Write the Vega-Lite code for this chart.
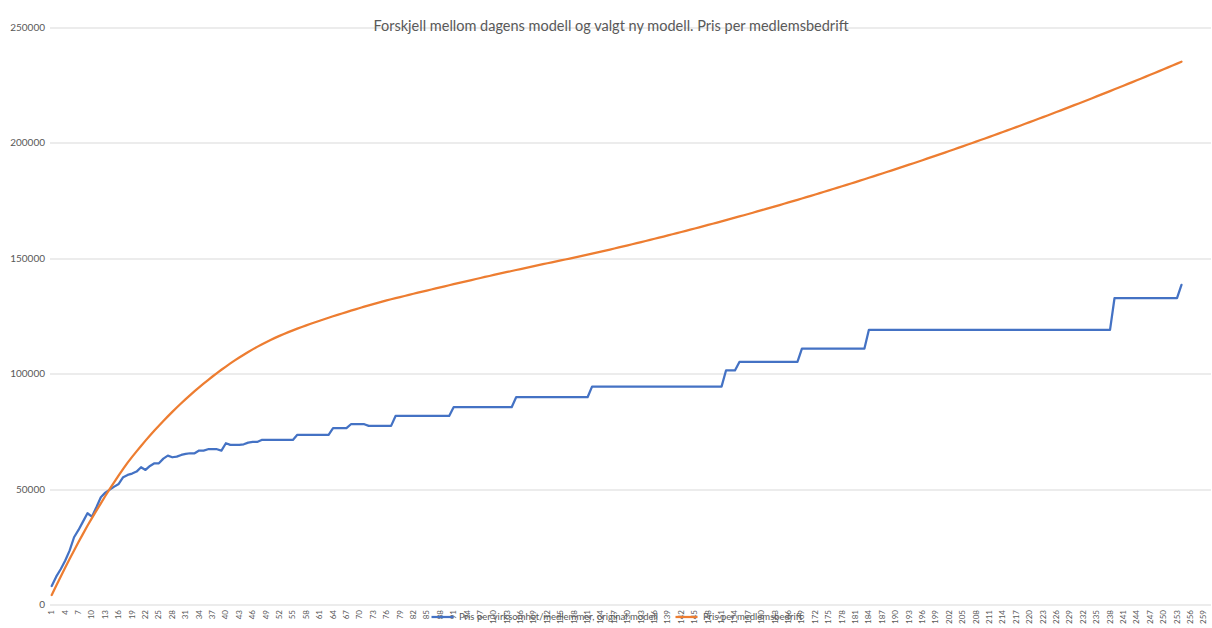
{
  "$schema": "https://vega.github.io/schema/vega-lite/v6.json",
  "width": 1161,
  "height": 577,
  "autosize": {"type": "none"},
  "padding": {"left": 49.5, "top": 27.5, "right": 1.5, "bottom": 23.5},
  "background": "white",
  "config": {"view": {"stroke": null}, "font": "Lato"},
  "title": {
    "text": "Forskjell mellom dagens modell og valgt ny modell. Pris per medlemsbedrift",
    "frame": "group", "anchor": "middle", "dx": -19, "offset": -19, "baseline": "middle",
    "fontSize": 14.5, "fontWeight": "normal", "color": "#595959", "font": "Lato"
  },
  "data": {"values": [
    {"n":1,"original":8000,"medlem":4100},
    {"n":2,"original":12060,"medlem":8100},
    {"n":3,"original":15270,"medlem":12050},
    {"n":4,"original":18990,"medlem":15900},
    {"n":5,"original":23330,"medlem":19700},
    {"n":6,"original":29130,"medlem":23400},
    {"n":7,"original":32300,"medlem":27050},
    {"n":8,"original":35900,"medlem":30600},
    {"n":9,"original":39530,"medlem":34100},
    {"n":10,"original":38070,"medlem":37400},
    {"n":11,"original":42130,"medlem":40650},
    {"n":12,"original":46470,"medlem":43850},
    {"n":13,"original":48470,"medlem":47000},
    {"n":14,"original":49770,"medlem":50100},
    {"n":15,"original":51070,"medlem":53050},
    {"n":16,"original":52240,"medlem":55950},
    {"n":17,"original":55140,"medlem":58750},
    {"n":18,"original":56140,"medlem":61450},
    {"n":19,"original":56720,"medlem":63950},
    {"n":20,"original":57590,"medlem":66350},
    {"n":21,"original":59470,"medlem":68700},
    {"n":22,"original":58310,"medlem":71000},
    {"n":23,"original":60040,"medlem":73200},
    {"n":24,"original":61200,"medlem":75350},
    {"n":25,"original":61200,"medlem":77450},
    {"n":26,"original":63200,"medlem":79500},
    {"n":27,"original":64500,"medlem":81500},
    {"n":28,"original":63800,"medlem":83450},
    {"n":29,"original":64070,"medlem":85350},
    {"n":30,"original":64800,"medlem":87200},
    {"n":31,"original":65240,"medlem":89000},
    {"n":32,"original":65530,"medlem":90750},
    {"n":33,"original":65530,"medlem":92450},
    {"n":34,"original":66690,"medlem":94100},
    {"n":35,"original":66690,"medlem":95710},
    {"n":36,"original":67270,"medlem":97270},
    {"n":37,"original":67270,"medlem":98790},
    {"n":38,"original":67270,"medlem":100270},
    {"n":39,"original":66690,"medlem":101700},
    {"n":40,"original":69870,"medlem":103090},
    {"n":41,"original":69140,"medlem":104440},
    {"n":42,"original":69140,"medlem":105750},
    {"n":43,"original":69140,"medlem":107010},
    {"n":44,"original":69400,"medlem":108230},
    {"n":45,"original":70150,"medlem":109400},
    {"n":46,"original":70440,"medlem":110530},
    {"n":47,"original":70440,"medlem":111620},
    {"n":48,"original":71300,"medlem":112670},
    {"n":49,"original":71300,"medlem":113670},
    {"n":50,"original":71300,"medlem":114620},
    {"n":51,"original":71300,"medlem":115530},
    {"n":52,"original":71300,"medlem":116390},
    {"n":53,"original":71300,"medlem":117210},
    {"n":54,"original":71300,"medlem":118000},
    {"n":55,"original":71300,"medlem":118770},
    {"n":56,"original":73500,"medlem":119510},
    {"n":57,"original":73500,"medlem":120230},
    {"n":58,"original":73500,"medlem":120930},
    {"n":59,"original":73500,"medlem":121620},
    {"n":60,"original":73500,"medlem":122290},
    {"n":61,"original":73500,"medlem":122950},
    {"n":62,"original":73500,"medlem":123600},
    {"n":63,"original":73500,"medlem":124240},
    {"n":64,"original":76400,"medlem":124870},
    {"n":65,"original":76400,"medlem":125490},
    {"n":66,"original":76400,"medlem":126100},
    {"n":67,"original":76400,"medlem":126710},
    {"n":68,"original":78100,"medlem":127310},
    {"n":69,"original":78100,"medlem":127890},
    {"n":70,"original":78100,"medlem":128470},
    {"n":71,"original":78100,"medlem":129040},
    {"n":72,"original":77400,"medlem":129600},
    {"n":73,"original":77400,"medlem":130150},
    {"n":74,"original":77400,"medlem":130690},
    {"n":75,"original":77400,"medlem":131230},
    {"n":76,"original":77400,"medlem":131750},
    {"n":77,"original":77400,"medlem":132260},
    {"n":78,"original":81700,"medlem":132730},
    {"n":79,"original":81700,"medlem":133200},
    {"n":80,"original":81700,"medlem":133680},
    {"n":81,"original":81700,"medlem":134150},
    {"n":82,"original":81700,"medlem":134630},
    {"n":83,"original":81700,"medlem":135100},
    {"n":84,"original":81700,"medlem":135560},
    {"n":85,"original":81700,"medlem":136030},
    {"n":86,"original":81700,"medlem":136490},
    {"n":87,"original":81700,"medlem":136960},
    {"n":88,"original":81700,"medlem":137420},
    {"n":89,"original":81700,"medlem":137870},
    {"n":90,"original":81700,"medlem":138330},
    {"n":91,"original":85500,"medlem":138780},
    {"n":92,"original":85500,"medlem":139240},
    {"n":93,"original":85500,"medlem":139690},
    {"n":94,"original":85500,"medlem":140130},
    {"n":95,"original":85500,"medlem":140580},
    {"n":96,"original":85500,"medlem":141020},
    {"n":97,"original":85500,"medlem":141470},
    {"n":98,"original":85500,"medlem":141910},
    {"n":99,"original":85500,"medlem":142340},
    {"n":100,"original":85500,"medlem":142780},
    {"n":101,"original":85500,"medlem":143210},
    {"n":102,"original":85500,"medlem":143650},
    {"n":103,"original":85500,"medlem":144080},
    {"n":104,"original":85500,"medlem":144500},
    {"n":105,"original":89800,"medlem":144930},
    {"n":106,"original":89800,"medlem":145350},
    {"n":107,"original":89800,"medlem":145780},
    {"n":108,"original":89800,"medlem":146200},
    {"n":109,"original":89800,"medlem":146610},
    {"n":110,"original":89800,"medlem":147030},
    {"n":111,"original":89800,"medlem":147440},
    {"n":112,"original":89800,"medlem":147860},
    {"n":113,"original":89800,"medlem":148270},
    {"n":114,"original":89800,"medlem":148670},
    {"n":115,"original":89800,"medlem":149080},
    {"n":116,"original":89800,"medlem":149480},
    {"n":117,"original":89800,"medlem":149890},
    {"n":118,"original":89800,"medlem":150290},
    {"n":119,"original":89800,"medlem":150690},
    {"n":120,"original":89800,"medlem":151120},
    {"n":121,"original":89800,"medlem":151560},
    {"n":122,"original":94400,"medlem":152000},
    {"n":123,"original":94400,"medlem":152440},
    {"n":124,"original":94400,"medlem":152890},
    {"n":125,"original":94400,"medlem":153340},
    {"n":126,"original":94400,"medlem":153790},
    {"n":127,"original":94400,"medlem":154240},
    {"n":128,"original":94400,"medlem":154700},
    {"n":129,"original":94400,"medlem":155160},
    {"n":130,"original":94400,"medlem":155620},
    {"n":131,"original":94400,"medlem":156090},
    {"n":132,"original":94400,"medlem":156560},
    {"n":133,"original":94400,"medlem":157030},
    {"n":134,"original":94400,"medlem":157510},
    {"n":135,"original":94400,"medlem":157980},
    {"n":136,"original":94400,"medlem":158460},
    {"n":137,"original":94400,"medlem":158950},
    {"n":138,"original":94400,"medlem":159430},
    {"n":139,"original":94400,"medlem":159920},
    {"n":140,"original":94400,"medlem":160410},
    {"n":141,"original":94400,"medlem":160910},
    {"n":142,"original":94400,"medlem":161410},
    {"n":143,"original":94400,"medlem":161910},
    {"n":144,"original":94400,"medlem":162410},
    {"n":145,"original":94400,"medlem":162920},
    {"n":146,"original":94400,"medlem":163420},
    {"n":147,"original":94400,"medlem":163940},
    {"n":148,"original":94400,"medlem":164450},
    {"n":149,"original":94400,"medlem":164970},
    {"n":150,"original":94400,"medlem":165490},
    {"n":151,"original":94400,"medlem":166010},
    {"n":152,"original":101400,"medlem":166540},
    {"n":153,"original":101400,"medlem":167070},
    {"n":154,"original":101400,"medlem":167600},
    {"n":155,"original":105100,"medlem":168130},
    {"n":156,"original":105100,"medlem":168670},
    {"n":157,"original":105100,"medlem":169210},
    {"n":158,"original":105100,"medlem":169750},
    {"n":159,"original":105100,"medlem":170300},
    {"n":160,"original":105100,"medlem":170850},
    {"n":161,"original":105100,"medlem":171400},
    {"n":162,"original":105100,"medlem":171950},
    {"n":163,"original":105100,"medlem":172510},
    {"n":164,"original":105100,"medlem":173070},
    {"n":165,"original":105100,"medlem":173630},
    {"n":166,"original":105100,"medlem":174200},
    {"n":167,"original":105100,"medlem":174770},
    {"n":168,"original":105100,"medlem":175340},
    {"n":169,"original":110900,"medlem":175920},
    {"n":170,"original":110900,"medlem":176490},
    {"n":171,"original":110900,"medlem":177070},
    {"n":172,"original":110900,"medlem":177660},
    {"n":173,"original":110900,"medlem":178240},
    {"n":174,"original":110900,"medlem":178830},
    {"n":175,"original":110900,"medlem":179420},
    {"n":176,"original":110900,"medlem":180020},
    {"n":177,"original":110900,"medlem":180610},
    {"n":178,"original":110900,"medlem":181210},
    {"n":179,"original":110900,"medlem":181820},
    {"n":180,"original":110900,"medlem":182420},
    {"n":181,"original":110900,"medlem":183030},
    {"n":182,"original":110900,"medlem":183640},
    {"n":183,"original":110900,"medlem":184260},
    {"n":184,"original":119000,"medlem":184880},
    {"n":185,"original":119000,"medlem":185500},
    {"n":186,"original":119000,"medlem":186120},
    {"n":187,"original":119000,"medlem":186740},
    {"n":188,"original":119000,"medlem":187370},
    {"n":189,"original":119000,"medlem":188000},
    {"n":190,"original":119000,"medlem":188640},
    {"n":191,"original":119000,"medlem":189280},
    {"n":192,"original":119000,"medlem":189920},
    {"n":193,"original":119000,"medlem":190560},
    {"n":194,"original":119000,"medlem":191200},
    {"n":195,"original":119000,"medlem":191850},
    {"n":196,"original":119000,"medlem":192500},
    {"n":197,"original":119000,"medlem":193160},
    {"n":198,"original":119000,"medlem":193820},
    {"n":199,"original":119000,"medlem":194480},
    {"n":200,"original":119000,"medlem":195140},
    {"n":201,"original":119000,"medlem":195800},
    {"n":202,"original":119000,"medlem":196470},
    {"n":203,"original":119000,"medlem":197140},
    {"n":204,"original":119000,"medlem":197820},
    {"n":205,"original":119000,"medlem":198500},
    {"n":206,"original":119000,"medlem":199180},
    {"n":207,"original":119000,"medlem":199860},
    {"n":208,"original":119000,"medlem":200540},
    {"n":209,"original":119000,"medlem":201230},
    {"n":210,"original":119000,"medlem":201920},
    {"n":211,"original":119000,"medlem":202620},
    {"n":212,"original":119000,"medlem":203320},
    {"n":213,"original":119000,"medlem":204020},
    {"n":214,"original":119000,"medlem":204720},
    {"n":215,"original":119000,"medlem":205420},
    {"n":216,"original":119000,"medlem":206130},
    {"n":217,"original":119000,"medlem":206840},
    {"n":218,"original":119000,"medlem":207560},
    {"n":219,"original":119000,"medlem":208280},
    {"n":220,"original":119000,"medlem":209000},
    {"n":221,"original":119000,"medlem":209720},
    {"n":222,"original":119000,"medlem":210440},
    {"n":223,"original":119000,"medlem":211170},
    {"n":224,"original":119000,"medlem":211900},
    {"n":225,"original":119000,"medlem":212640},
    {"n":226,"original":119000,"medlem":213370},
    {"n":227,"original":119000,"medlem":214110},
    {"n":228,"original":119000,"medlem":214860},
    {"n":229,"original":119000,"medlem":215600},
    {"n":230,"original":119000,"medlem":216350},
    {"n":231,"original":119000,"medlem":217100},
    {"n":232,"original":119000,"medlem":217860},
    {"n":233,"original":119000,"medlem":218610},
    {"n":234,"original":119000,"medlem":219370},
    {"n":235,"original":119000,"medlem":220140},
    {"n":236,"original":119000,"medlem":220900},
    {"n":237,"original":119000,"medlem":221670},
    {"n":238,"original":119000,"medlem":222440},
    {"n":239,"original":132700,"medlem":223220},
    {"n":240,"original":132700,"medlem":223990},
    {"n":241,"original":132700,"medlem":224770},
    {"n":242,"original":132700,"medlem":225560},
    {"n":243,"original":132700,"medlem":226340},
    {"n":244,"original":132700,"medlem":227130},
    {"n":245,"original":132700,"medlem":227920},
    {"n":246,"original":132700,"medlem":228710},
    {"n":247,"original":132700,"medlem":229510},
    {"n":248,"original":132700,"medlem":230310},
    {"n":249,"original":132700,"medlem":231110},
    {"n":250,"original":132700,"medlem":231920},
    {"n":251,"original":132700,"medlem":232730},
    {"n":252,"original":132700,"medlem":233540},
    {"n":253,"original":132700,"medlem":234350},
    {"n":254,"original":138500,"medlem":235170}
  ]},
  "transform": [{"fold": ["original", "medlem"], "as": ["serie", "pris"]}],
  "mark": {"type": "line", "strokeWidth": 2.25, "strokeJoin": "round", "strokeCap": "round"},
  "encoding": {
    "x": {
      "field": "n", "type": "quantitative",
      "scale": {"domain": [0.5, 260.5], "nice": false, "zero": false},
      "axis": {
        "values": [1,4,7,10,13,16,19,22,25,28,31,34,37,40,43,46,49,52,55,58,61,64,67,70,73,76,79,82,85,88,91,94,97,100,103,106,109,112,115,118,121,124,127,130,133,136,139,142,145,148,151,154,157,160,163,166,169,172,175,178,181,184,187,190,193,196,199,202,205,208,211,214,217,220,223,226,229,232,235,238,241,244,247,250,253,256,259],
        "labelAngle": 270, "labelFontSize": 8, "labelColor": "#595959", "labelPadding": 5,
        "domain": false, "ticks": false, "grid": false, "title": null,
        "labelOverlap": false, "labelFlush": false
      }
    },
    "y": {
      "field": "pris", "type": "quantitative",
      "scale": {"domain": [0, 250000], "nice": false},
      "axis": {
        "values": [0, 50000, 100000, 150000, 200000, 250000], "format": "d",
        "labelFontSize": 10, "labelColor": "#595959", "labelPadding": 5,
        "domain": false, "ticks": false, "gridColor": "#d9d9d9", "gridWidth": 1,
        "title": null, "labelFlush": false
      }
    },
    "color": {
      "field": "serie", "type": "nominal",
      "scale": {"domain": ["original", "medlem"], "range": ["#4472C4", "#ED7D31"]},
      "legend": {
        "orient": "none", "legendX": 380.5, "legendY": 577, "direction": "horizontal",
        "title": null, "symbolType": "stroke", "symbolSize": 484, "symbolStrokeWidth": 2.25,
        "labelFontSize": 9.5, "labelColor": "#595959", "columnPadding": 12, "labelLimit": 400,
        "labelExpr": "datum.value == 'original' ? 'Pris per virksomhet/medlemmer, original modell' : 'Pris per medlemsbedrift'"
      }
    }
  }
}
